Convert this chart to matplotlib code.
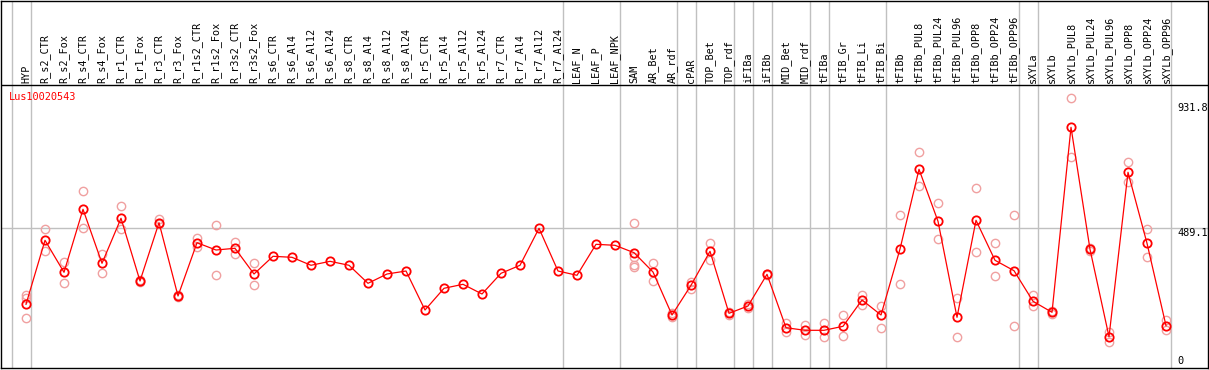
import numpy as np
import matplotlib
matplotlib.use("Agg")
import matplotlib.pyplot as plt

# sample names, in plot order
samples = [
    "HYP", "R_s2_CTR", "R_s2_Fox", "R_s4_CTR", "R_s4_Fox", "R_r1_CTR", "R_r1_Fox",
    "R_r3_CTR", "R_r3_Fox", "R_r1s2_CTR", "R_r1s2_Fox", "R_r3s2_CTR", "R_r3s2_Fox",
    "R_s6_CTR", "R_s6_Al4", "R_s6_Al12", "R_s6_Al24", "R_s8_CTR", "R_s8_Al4",
    "R_s8_Al12", "R_s8_Al24", "R_r5_CTR", "R_r5_Al4", "R_r5_Al12", "R_r5_Al24",
    "R_r7_CTR", "R_r7_Al4", "R_r7_Al12", "R_r7_Al24", "LEAF_N", "LEAF_P", "LEAF_NPK",
    "SAM", "AR_Bet", "AR_rdf", "cPAR", "TOP_Bet", "TOP_rdf", "iFIBa", "iFIBb",
    "MID_Bet", "MID_rdf", "tFIBa", "tFIB_Gr", "tFIB_Li", "tFIB_Bi", "tFIBb",
    "tFIBb_PUL8", "tFIBb_PUL24", "tFIBb_PUL96", "tFIBb_OPP8", "tFIBb_OPP24",
    "tFIBb_OPP96", "sXYLa", "sXYLb", "sXYLb_PUL8", "sXYLb_PUL24", "sXYLb_PUL96",
    "sXYLb_OPP8", "sXYLb_OPP24", "sXYLb_OPP96",
]

# mean expression per sample
means = [
    219.5, 446.5, 333.0, 556.5, 365.0, 524.6, 302.2, 509.0, 249.0, 438.0, 412.1,
    418.2, 327.0, 389.8, 386.2, 357.9, 372.0, 357.9, 294.0, 327.0, 337.6, 199.3,
    276.3, 290.5, 256.1, 329.5, 357.9, 489.1, 337.6, 322.4, 432.3, 428.8, 402.6,
    334.1, 181.6, 286.9, 407.5, 187.6, 213.5, 325.9, 136.5, 127.3, 127.3, 141.5,
    234.8, 181.6, 415.7, 698.4, 513.9, 173.4, 517.5, 375.6, 338.7, 230.2, 191.2,
    847.3, 414.6, 104.6, 687.7, 435.9, 143.6,
]

# individual replicates (empty where none are shown)
replicates = [
    [253.6, 242.9, 169.9], [485.6, 408.6], [368.5, 294.0], [620.3, 489.1],
    [397.9, 329.5], [567.1, 485.6], [304.0, 300.0], [522.1, 504.4], [251.5, 244.4],
    [455.8, 423.8], [499.7, 322.4], [439.4, 396.9], [365.0, 286.9],
    [], [], [], [], [], [], [], [], [], [], [], [], [], [], [], [], [], [], [],
    [506.8, 388.4, 358.9, 350.8], [365.0, 303.2], [187.6, 173.4], [298.6, 274.9],
    [435.9, 376.7], [192.2, 180.5], [219.5, 206.4], [327.0, 325.0],
    [152.1, 120.2], [146.1, 109.6], [152.1, 104.6], [180.5, 107.1], [252.5, 216.0],
    [213.5, 134.4], [535.2, 290.5], [758.7, 639.1], [577.8, 450.1], [240.8, 102.5],
    [631.0, 404.0], [435.9, 318.8], [535.2, 141.5], [252.5, 214.6], [195.8, 184.1],
    [950.2, 742.0], [418.2, 409.6], [122.3, 86.9], [723.2, 652.3], [485.6, 388.4],
    [163.8, 128.4],
]

# last sample index of each group (grey separators follow these)
group_ends = [-1, 0, 28, 31, 34, 35, 37, 38, 39, 41, 42, 45, 52, 53, 60]

gene = "Lus10020543"
y_max_label = 931.8
y_mid_label = 489.1

fig = plt.figure(figsize=(12.09, 3.70), dpi=100)
ax = fig.add_axes([1 / 1209, 2 / 370, 1207 / 1209, 367 / 370])
ax.set_xlim(-1.316, 62.21)
ax.set_ylim(-6.4, 1295.3)
ax.set_xticks([])
ax.set_yticks([])
for sp in ax.spines.values():
    sp.set_linewidth(1.0)
    sp.set_color("black")

header_y = 997.4
for b in group_ends:
    ax.axvline(b + 0.25, color="#c0c0c0", lw=1.0, zorder=0)
ax.axhline(y_mid_label, color="#c0c0c0", lw=1.0, zorder=0)
ax.axhline(header_y, color="black", lw=1.0, zorder=1)

x = np.arange(len(samples))
for i, reps in enumerate(replicates):
    if reps:
        ax.plot([i] * len(reps), reps, linestyle="none", marker="o", ms=6.0,
                mec="#f0a0a0", mfc="none", mew=1.0, zorder=2)

ax.plot(x, means, color="red", lw=0.9, zorder=3)
ax.plot(x, means, linestyle="none", marker="o", ms=6.0, mec="red", mfc="none",
        mew=1.3, zorder=4)

for i, name in enumerate(samples):
    ax.text(i, 1004, name, rotation=90, ha="center", va="bottom",
            family="DejaVu Sans Mono", fontsize=7.3, color="black")

ax.text(-0.88, 956, gene, color="red", ha="left", va="center",
        family="DejaVu Sans Mono", fontsize=7.4)

tr = ax.get_yaxis_transform()
ax.text(0.975, y_max_label, f"{y_max_label}", transform=tr, ha="left", va="top",
        family="DejaVu Sans Mono", fontsize=7.4)
ax.text(0.975, y_mid_label, f"{y_mid_label}", transform=tr, ha="left", va="top",
        family="DejaVu Sans Mono", fontsize=7.4)
ax.text(0.975, 0, "0", transform=tr, ha="left", va="bottom",
        family="DejaVu Sans Mono", fontsize=7.4)

fig.savefig("out.png", dpi=100)
